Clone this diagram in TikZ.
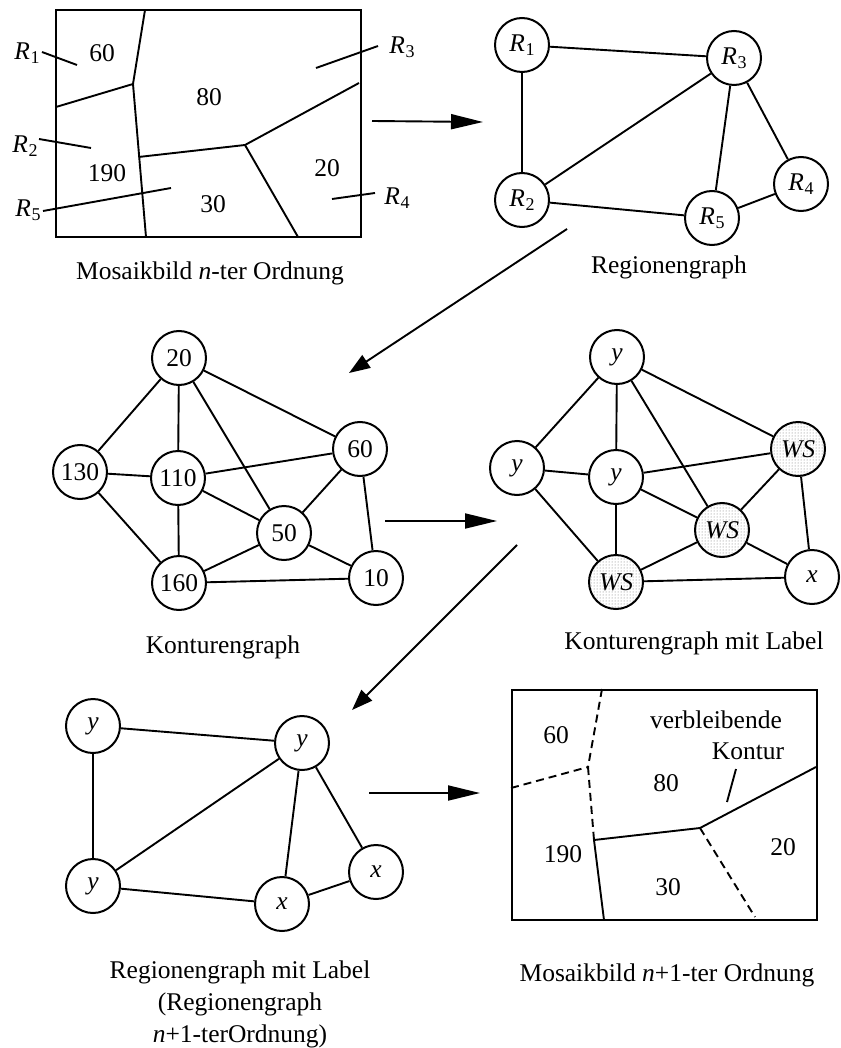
\documentclass[tikz,border=0pt]{standalone}
\usepackage{fontspec}
\setmainfont{Liberation Serif}
\usetikzlibrary{arrows.meta,patterns}
\newcommand\Rlab[1]{\textit{R}\kern0.5pt\raisebox{-0.35ex}{\fontsize{18}{18}\selectfont #1}}
\begin{document}
\begin{tikzpicture}[x=1pt,y=-1pt,
  font=\fontsize{25.5}{32}\selectfont,
  vtx/.style={circle,draw,line width=2pt,minimum size=54pt,inner sep=0pt},
  shadedvtx/.style={vtx,pattern=dots,pattern color=black!55},
  edge/.style={line width=1.9pt},
  bigarrow/.style={line width=1.9pt,-{Triangle[length=32pt,width=15pt]}},
  diagarrow/.style={line width=1.9pt,-{Triangle[length=21pt,width=15pt]}},
  lbl/.style={inner sep=0pt},
  captxt/.style={inner sep=0pt,align=center},
  frame/.style={line width=2.2pt},
  cont/.style={line width=1.9pt},
  dcont/.style={line width=1.9pt,dash pattern=on 8pt off 5pt}]
\useasboundingbox[fill=white] (0,0) rectangle (840,1048);

% ---------- Mosaikbild n-ter Ordnung ----------
\draw[frame] (56,10) rectangle (361,237);
\draw[cont] (145,10) -- (133,84) -- (146,237);
\draw[cont] (56,107) -- (133,84);
\draw[cont] (138.5,157) -- (245,145) -- (359,83);
\draw[cont] (245,145) -- (298,237);
\node[lbl] (m60) at (102,53) {60};
\node[lbl] (m80) at (209,97) {80};
\node[lbl] (m190) at (107,173) {190};
\node[lbl] (m30) at (213,204) {30};
\node[lbl] (m20) at (327,168) {20};
\node[lbl] (lR1) at (27,53) {\Rlab{1}};
\node[lbl] (lR3) at (402,47) {\Rlab{3}};
\node[lbl] (lR2) at (25,146) {\Rlab{2}};
\node[lbl] (lR5) at (28,210) {\Rlab{5}};
\node[lbl] (lR4) at (397,198) {\Rlab{4}};
\coordinate (p1a) at (42,52);  \coordinate (p1b) at (77,65);
\coordinate (p3a) at (378,46); \coordinate (p3b) at (316,68);
\coordinate (p2a) at (39,139); \coordinate (p2b) at (91,148);
\coordinate (p5a) at (43,211); \coordinate (p5b) at (171,188);
\coordinate (p4a) at (375,193); \coordinate (p4b) at (332,199);
\draw[cont] (p1a) -- (p1b);
\draw[cont] (p3a) -- (p3b);
\draw[cont] (p2a) -- (p2b);
\draw[cont] (p5a) -- (p5b);
\draw[cont] (p4a) -- (p4b);
\node[captxt] (cap1) at (210,273) {Mosaikbild \textit{n}-ter Ordnung};

% ---------- Regionengraph ----------
\node[vtx] (R1) at (522,45) {\Rlab{1}};
\node[vtx] (R3) at (734,58) {\Rlab{3}};
\node[vtx] (R2) at (522,200) {\Rlab{2}};
\node[vtx] (R5) at (712,218) {\Rlab{5}};
\node[vtx] (R4) at (801,184) {\Rlab{4}};
\draw[edge] (R1) -- (R3);
\draw[edge] (R1) -- (R2);
\draw[edge] (R2) -- (R3);
\draw[edge] (R3) -- (R5);
\draw[edge] (R3) -- (R4);
\draw[edge] (R2) -- (R5);
\draw[edge] (R5) -- (R4);
\node[captxt] (cap2) at (669,267) {Regionengraph};

% ---------- Konturengraph ----------
\node[vtx] (k20) at (179,358) {20};
\node[vtx] (k130) at (80,472) {130};
\node[vtx] (k110) at (178,478) {110};
\node[vtx] (k60) at (360,449) {60};
\node[vtx] (k50) at (284,533) {50};
\node[vtx] (k160) at (179,583) {160};
\node[vtx] (k10) at (376,578) {10};
\foreach \a/\b in {k20/k130,k20/k110,k20/k50,k20/k60,k130/k110,k130/k160,k110/k60,k110/k50,k110/k160,k60/k50,k60/k10,k50/k160,k50/k10,k160/k10}
  \draw[edge] (\a) -- (\b);
\node[captxt] (cap3) at (223,647) {Konturengraph};

% ---------- Konturengraph mit Label ----------
\node[vtx] (ta) at (617,357) {\textit{y}};
\node[vtx] (tb) at (517,468) {\textit{y}};
\node[vtx] (tc) at (616,477) {\textit{y}};
\node[shadedvtx] (wr) at (798,449) {\textit{WS}};
\node[shadedvtx] (wm) at (722,530) {\textit{WS}};
\node[shadedvtx] (wb) at (616,582) {\textit{WS}};
\node[vtx] (tx) at (812,577) {\textit{x}};
\foreach \a/\b in {ta/tb,ta/tc,ta/wm,ta/wr,tb/tc,tb/wb,tc/wr,tc/wm,tc/wb,wr/wm,wr/tx,wm/wb,wm/tx,wb/tx}
  \draw[edge] (\a) -- (\b);
\node[captxt] (cap4) at (694,643) {Konturengraph mit Label};

% ---------- Regionengraph mit Label ----------
\node[vtx] (ga) at (93,726) {\textit{y}};
\node[vtx] (gb) at (302,743) {\textit{y}};
\node[vtx] (gc) at (93,886) {\textit{y}};
\node[vtx] (gd) at (282,904) {\textit{x}};
\node[vtx] (ge) at (376,872) {\textit{x}};
\foreach \a/\b in {ga/gb,ga/gc,gc/gb,gb/gd,gb/ge,gc/gd,gd/ge}
  \draw[edge] (\a) -- (\b);
\node[captxt] (cap5) at (240,1004) {Regionengraph mit Label\\(Regionengraph\\\textit{n}+1-terOrdnung)};

% ---------- Mosaikbild n+1-ter Ordnung ----------
\draw[frame] (512,690) rectangle (817,920);
\draw[dcont] (602,689) -- (588,767);
\draw[dcont] (511,788) -- (588,767);
\draw[dcont] (588,767) -- (594,840);
\draw[cont] (594,840) -- (700,828) -- (816,767);
\draw[cont] (594,840) -- (604,920);
\draw[dcont] (700,828) -- (755,917);
\node[lbl] (n60) at (556,735) {60};
\node[lbl] (n80) at (666,783) {80};
\node[lbl] (n190) at (563,854) {190};
\node[lbl] (n30) at (668,887) {30};
\node[lbl] (n20) at (783,847) {20};
\node[lbl] (verb) at (716,720) {verbleibende};
\node[lbl] (kont) at (748,751) {Kontur};
\coordinate (kpa) at (736,769); \coordinate (kpb) at (727,802);
\draw[cont] (kpa) -- (kpb);
\node[captxt] (cap6) at (667,975) {Mosaikbild \textit{n}+1-ter Ordnung};

% ---------- Arrows ----------
\coordinate (a1s) at (372,121); \coordinate (a1e) at (483,122);
\coordinate (a2s) at (567,229); \coordinate (a2e) at (349,373);
\coordinate (a3s) at (385,521); \coordinate (a3e) at (497,521);
\coordinate (a4s) at (517,545); \coordinate (a4e) at (352,710);
\coordinate (a5s) at (369,793); \coordinate (a5e) at (480,793);
\draw[bigarrow] (a1s) -- (a1e);
\draw[diagarrow] (a2s) -- (a2e);
\draw[bigarrow] (a3s) -- (a3e);
\draw[diagarrow] (a4s) -- (a4e);
\draw[bigarrow] (a5s) -- (a5e);
\end{tikzpicture}
\end{document}
